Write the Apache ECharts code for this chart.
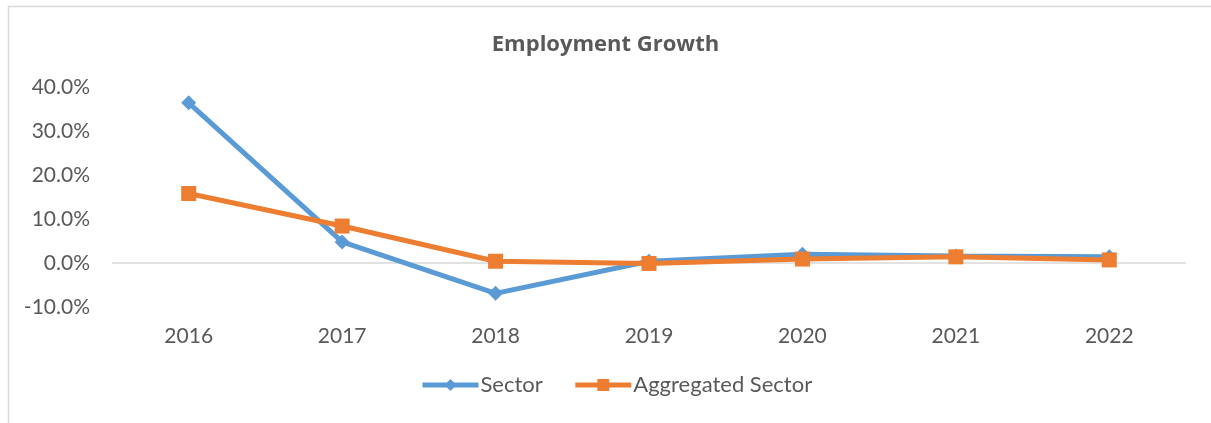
<!DOCTYPE html>
<html>
<head>
<meta charset="utf-8">
<title>Employment Growth</title>
<script src="https://cdn.jsdelivr.net/npm/echarts@6/dist/echarts.min.js"></script>
<style>
  html, body { margin: 0; padding: 0; background: #ffffff; }
  #chart { width: 1211px; height: 423px; }
</style>
</head>
<body>
<div id="chart"></div>
<script>
// Employment growth by year, in percent
const years = ['2016', '2017', '2018', '2019', '2020', '2021', '2022'];
const sectorGrowth = [36.4, 4.8, -6.9, 0.4, 2.0, 1.6, 1.4];
const aggregatedGrowth = [15.8, 8.4, 0.4, -0.1, 0.9, 1.4, 0.7];

const textColor = '#595959';
const fontFamily = 'Lato, "Open Sans", sans-serif';

const chart = echarts.init(document.getElementById('chart'));
chart.setOption({
  backgroundColor: '#ffffff',
  animation: false,
  textStyle: { fontFamily: fontFamily, color: textColor },
  graphic: [{
    type: 'polyline',
    shape: { points: [[8.5, 423], [8.5, 6.5], [1211, 6.5]] },
    style: { stroke: '#d9d9d9', lineWidth: 1.5, fill: null },
    silent: true
  }],
  title: {
    text: 'Employment Growth',
    left: 'center',
    top: 29,
    textStyle: { fontFamily: '"Open Sans", sans-serif', fontSize: 22, fontWeight: 'bold', color: textColor }
  },
  legend: {
    bottom: 22,
    left: 415,
    itemWidth: 56,
    itemHeight: 15,
    itemGap: 30,
    lineStyle: { width: 5 },
    textStyle: { fontFamily: fontFamily, fontSize: 22, color: textColor, padding: [0, 0, 0, -3] },
    data: ['Sector', 'Aggregated Sector']
  },
  grid: { left: 112, right: 25, top: 87, bottom: 116 },
  xAxis: {
    type: 'category',
    data: years,
    axisLine: { show: false },
    axisTick: { show: false },
    axisLabel: { fontFamily: fontFamily, fontSize: 21, color: textColor, margin: 19 }
  },
  yAxis: {
    type: 'value',
    min: -10,
    max: 40,
    interval: 10,
    axisLine: { show: false },
    axisTick: { show: false },
    splitLine: { show: false },
    axisLabel: {
      fontFamily: fontFamily, fontSize: 21, color: textColor, margin: 22,
      formatter: v => v.toFixed(1) + '%'
    }
  },
  series: [
    {
      name: 'Sector',
      type: 'line',
      data: sectorGrowth,
      color: '#5b9bd5',
      lineStyle: { width: 5, color: '#5b9bd5' },
      symbol: 'diamond',
      symbolSize: 15,
      itemStyle: { color: '#5b9bd5' },
      z: 3,
      markLine: {
        silent: true,
        symbol: 'none',
        label: { show: false },
        lineStyle: { color: '#d9d9d9', width: 1.5, type: 'solid' },
        data: [{ yAxis: 0 }],
        z: 1
      }
    },
    {
      name: 'Aggregated Sector',
      type: 'line',
      data: aggregatedGrowth,
      color: '#ed7d31',
      lineStyle: { width: 5, color: '#ed7d31' },
      symbol: 'rect',
      symbolSize: 15,
      itemStyle: { color: '#ed7d31' },
      z: 4
    }
  ]
});
</script>
</body>
</html>
